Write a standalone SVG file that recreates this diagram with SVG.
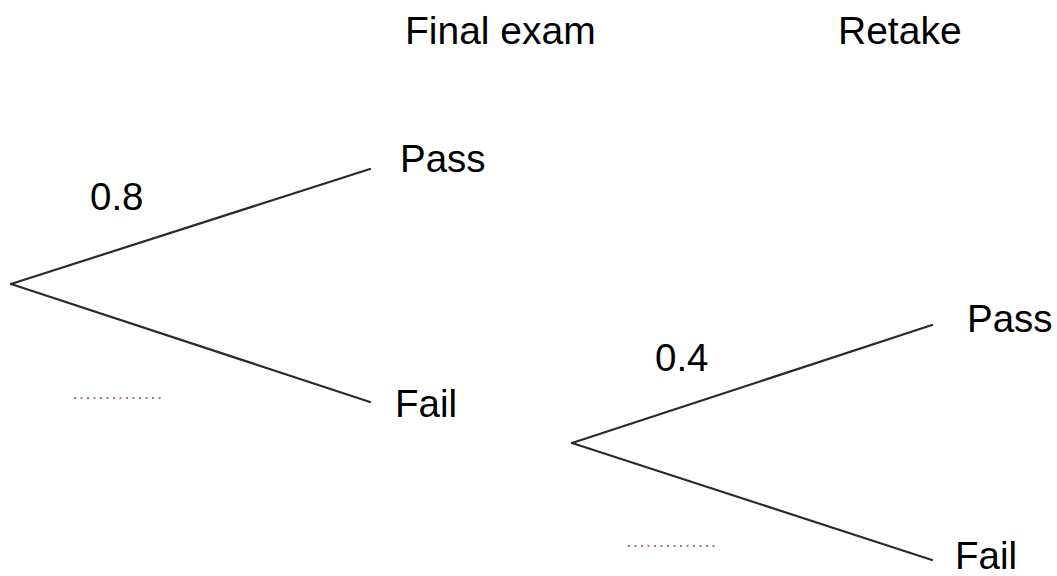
<svg xmlns="http://www.w3.org/2000/svg" width="1057" height="576" viewBox="0 0 1057 576">
<style>
text{font-family:"Liberation Sans",Arial,sans-serif;font-size:38.5px;fill:#000}
.br{stroke:#2a2a2a;stroke-width:2.2;fill:none;stroke-linecap:round}
.dot{stroke:#a07890;stroke-width:2;stroke-dasharray:2,4.5;fill:none}
</style>
<rect width="1057" height="576" fill="#fff"/>
<g id="headers">
<text id="h-final" x="405" y="44" style="font-size:39px">Final exam</text>
<text id="h-retake" x="838" y="44" style="font-size:39px">Retake</text>
</g>
<g id="connectors">
<line class="br" x1="11" y1="284" x2="370" y2="169"/>
<line class="br" x1="11" y1="284" x2="370" y2="402"/>
<line class="br" x1="572" y1="443" x2="932" y2="325"/>
<line class="br" x1="572" y1="443" x2="932" y2="560"/>
</g>
<g id="node-pass1"><text x="400" y="172">Pass</text></g>
<g id="node-fail1"><text x="395" y="417">Fail</text></g>
<g id="node-pass2"><text x="967" y="332">Pass</text></g>
<g id="node-fail2"><text x="955" y="569">Fail</text></g>
<g id="labels">
<text x="90" y="210">0.8</text>
<text x="655" y="371">0.4</text>
<line class="dot" x1="74" y1="398" x2="162" y2="398"/>
<line class="dot" x1="628" y1="546" x2="716" y2="546"/>
</g>
</svg>
